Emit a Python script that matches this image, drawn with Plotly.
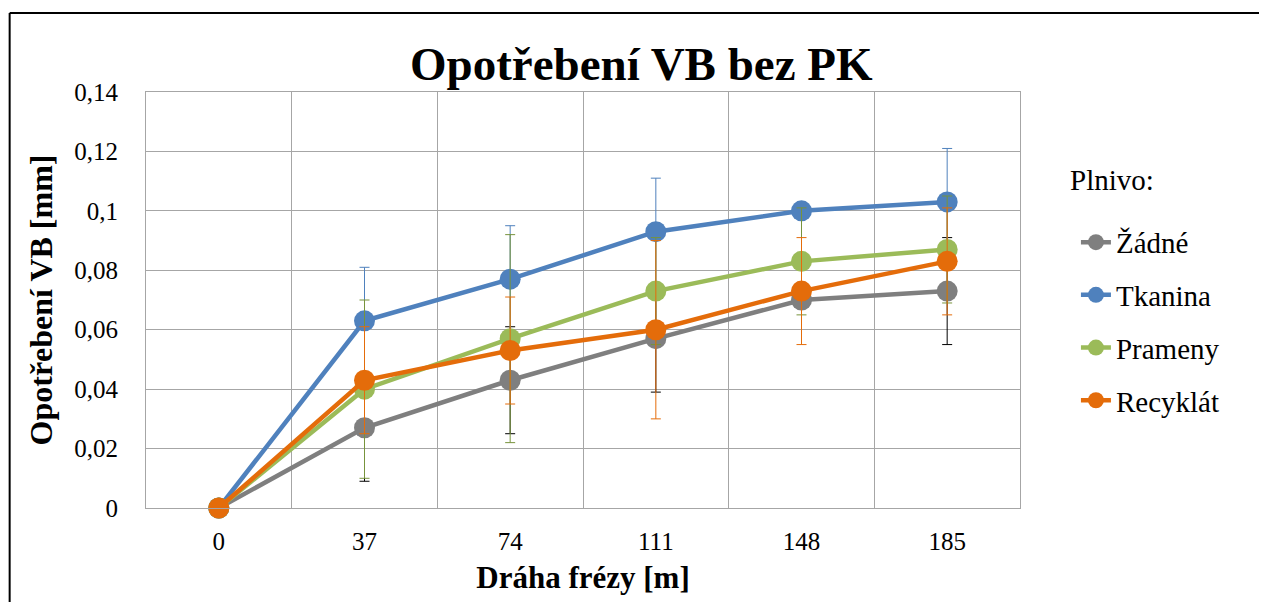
import plotly.graph_objects as go

# draha frezy [m]
draha = ["0", "37", "74", "111", "148", "185"]

# opotrebeni VB [mm] pro kazde plnivo
zadne = [0, 0.027, 0.043, 0.057, 0.070, 0.073]
tkanina = [0, 0.063, 0.077, 0.093, 0.100, 0.103]
prameny = [0, 0.040, 0.057, 0.073, 0.083, 0.087]
recyklat = [0, 0.043, 0.053, 0.060, 0.073, 0.083]

# chybove useky (smerodatna odchylka)
err_zadne = [0, 0.018, 0.018, 0.018, 0, 0.018]
err_tkanina = [0, 0.018, 0.018, 0.018, 0, 0.018]
err_prameny = [0, 0.030, 0.035, 0.018, 0.018, 0.018]
err_recyklat = [0, 0.018, 0.018, 0.030, 0.018, 0.018]

y_ticks = [0, 0.02, 0.04, 0.06, 0.08, 0.1, 0.12, 0.14]
y_labels = ["0", "0,02", "0,04", "0,06", "0,08", "0,1", "0,12", "0,14"]

serie = [
    ("Žádné", zadne, err_zadne, "#7F7F7F", "#000000"),
    ("Tkanina", tkanina, err_tkanina, "#4F81BD", "#4F81BD"),
    ("Prameny", prameny, err_prameny, "#9BBB59", "#77933C"),
    ("Recyklát", recyklat, err_recyklat, "#E46C0A", "#E46C0A"),
]

font = "Liberation Serif"

fig = go.Figure()
for name, vals, err, color, ecolor in serie:
    fig.add_trace(go.Scatter(
        x=draha, y=vals, name=name, legendgroup=name,
        mode="lines+markers",
        line=dict(color=color, width=4.5),
        marker=dict(color=color, size=21),
        error_y=dict(type="data", array=err, color=ecolor, thickness=1, width=5),
        cliponaxis=False,
    ))

# stranka ma okraj 8 px, proto je graf o 8 px mensi
fig.update_layout(
    width=1259, height=594,
    paper_bgcolor="white", plot_bgcolor="white",
    margin=dict(l=138, r=247, t=84, b=94),
    font=dict(family=font, size=25, color="black"),
    title=dict(text="<b>Opotřebení VB bez PK</b>", x=0.503, xanchor="center",
               y=0.906, yanchor="middle", font=dict(size=47)),
    legend=dict(x=1.064, y=0.70, xanchor="left", yanchor="top",
                font=dict(size=29), tracegroupgap=12,
                bgcolor="rgba(0,0,0,0)"),
    showlegend=True,
)

# nadpis legendy
fig.add_annotation(text="Plnivo:", xref="paper", yref="paper",
                   x=1.055, y=0.788, xanchor="left", yanchor="middle",
                   showarrow=False, font=dict(size=29))

fig.update_xaxes(
    type="category", range=[-0.5, len(draha) - 0.5], tickson="boundaries",
    showgrid=True, gridcolor="#A6A6A6", gridwidth=1, showline=True,
    linecolor="#A6A6A6", mirror=True, ticks="", ticklabelstandoff=11,
    title=dict(text="<b>Dráha frézy [m]</b>", font=dict(size=31), standoff=12),
)
fig.update_yaxes(
    range=[0, 0.14], tickvals=y_ticks, ticktext=y_labels,
    showgrid=True, gridcolor="#A6A6A6", gridwidth=1, zeroline=False,
    showline=True, linecolor="#A6A6A6", mirror=True, ticks="",
    ticklabelstandoff=22,
    title=dict(text="<b>Opotřebení VB [mm]</b>", font=dict(size=32), standoff=12),
)

# ramecek grafu (levy a horni okraj)
fig.add_shape(type="line", xref="paper", yref="paper",
              x0=-0.156, x1=1.3, y0=1.19, y1=1.19,
              line=dict(color="black", width=2))
fig.add_shape(type="line", xref="paper", yref="paper",
              x0=-0.156, x1=-0.156, y0=1.19, y1=-0.3,
              line=dict(color="black", width=2))

fig.write_html("out.html")
